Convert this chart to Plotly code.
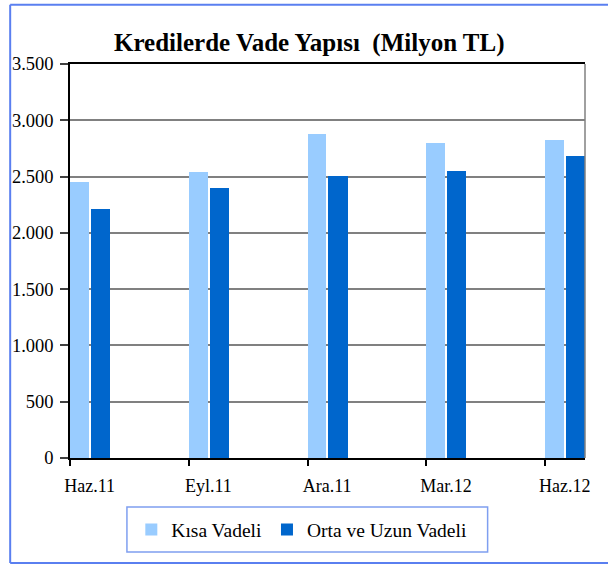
import plotly.graph_objects as go

categories = ["Haz.11", "Eyl.11", "Ara.11", "Mar.12", "Haz.12"]
kisa_vadeli = [2450, 2545, 2880, 2800, 2828]
orta_uzun_vadeli = [2216, 2401, 2508, 2552, 2686]
y_tickvals = [0, 500, 1000, 1500, 2000, 2500, 3000, 3500]
y_ticktext = ["0", "500", "1.000", "1.500", "2.000", "2.500", "3.000", "3.500"]

W, H = 608, 565
L, R, T, B = 66.7, 585, 63.7, 458
FONT = "Liberation Serif"

xpos = list(range(len(categories)))
label_pos = [p + 0.165 for p in xpos]

fig = go.Figure()
fig.add_trace(go.Bar(
    x=xpos, y=kisa_vadeli, name="Kısa Vadeli",
    marker=dict(color="#99CCFF", line=dict(width=0)),
    offset=0.0, width=0.159,
))
fig.add_trace(go.Bar(
    x=xpos, y=orta_uzun_vadeli, name="Orta ve Uzun Vadeli",
    marker=dict(color="#0066CC", line=dict(width=0)),
    offset=0.175, width=0.161,
))

def px_x(p):
    return (p - L) / (R - L)

def px_y(p):
    return (B - p) / (B - T)

shapes = [
    dict(type="line", xref="paper", yref="paper", x0=1, x1=1, y0=0, y1=1,
         line=dict(color="#808080", width=1.5)),
    dict(type="line", xref="paper", yref="paper", x0=px_x(6.5), x1=px_x(6.5),
         y0=px_y(4.5), y1=px_y(563), line=dict(color="#5A7FF0", width=2)),
    dict(type="line", xref="paper", yref="paper", x0=px_x(6.5), x1=px_x(620),
         y0=px_y(4.5), y1=px_y(4.5), line=dict(color="#5A7FF0", width=2)),
    dict(type="line", xref="paper", yref="paper", x0=px_x(6.5), x1=px_x(620),
         y0=px_y(563), y1=px_y(563), line=dict(color="#5A7FF0", width=2)),
    dict(type="rect", xref="paper", yref="paper", x0=px_x(124), x1=px_x(487),
         y0=px_y(552), y1=px_y(507), line=dict(color="#7F9FF0", width=1.5),
         fillcolor="rgba(0,0,0,0)"),
]

fig.update_layout(
    width=W, height=H,
    margin=dict(l=L, r=W - R, t=T, b=H - B, pad=0),
    paper_bgcolor="white", plot_bgcolor="white",
    bargap=0, barmode="overlay",
    font=dict(family=FONT, size=18, color="black"),
    title=dict(text="<b>Kredilerde Vade Yapısı  (Milyon TL)</b>",
               font=dict(family=FONT, size=25, color="black"),
               x=px_x(307.5), xref="paper", xanchor="center",
               y=1 - 42 / H, yref="container", yanchor="middle"),
    showlegend=True,
    legend=dict(orientation="h", x=px_x(300), xanchor="center",
                y=px_y(530), yanchor="middle",
                font=dict(family=FONT, size=19.5, color="black"),
                bgcolor="rgba(0,0,0,0)", borderwidth=0,
                itemwidth=30, traceorder="normal"),
    shapes=shapes,
)

fig.update_xaxes(
    range=[0, 4.335], tickmode="array", tickvals=label_pos, ticktext=categories,
    showgrid=False, zeroline=False,
    showline=True, linecolor="black", linewidth=1.5, mirror=True,
    ticks="", ticklen=6,
    minor=dict(tickmode="array", tickvals=xpos, ticks="outside", ticklen=6,
               tickcolor="black", tickwidth=1.5, showgrid=False),
    tickfont=dict(family=FONT, size=18, color="black"),
    ticklabelstandoff=11,
    fixedrange=True,
)
fig.update_yaxes(
    range=[0, 3500], tickmode="array", tickvals=y_tickvals, ticktext=y_ticktext,
    showgrid=True, gridcolor="#808080", gridwidth=1.5, zeroline=False,
    showline=True, linecolor="black", linewidth=1.5,
    ticks="outside", ticklen=8, tickcolor="#404040", tickwidth=1.5,
    tickfont=dict(family=FONT, size=18.5, color="black"),
    ticklabelstandoff=3,
    fixedrange=True,
)

fig.write_html("out.html", config={"displayModeBar": False},
               post_script="document.body.style.margin='0';")
